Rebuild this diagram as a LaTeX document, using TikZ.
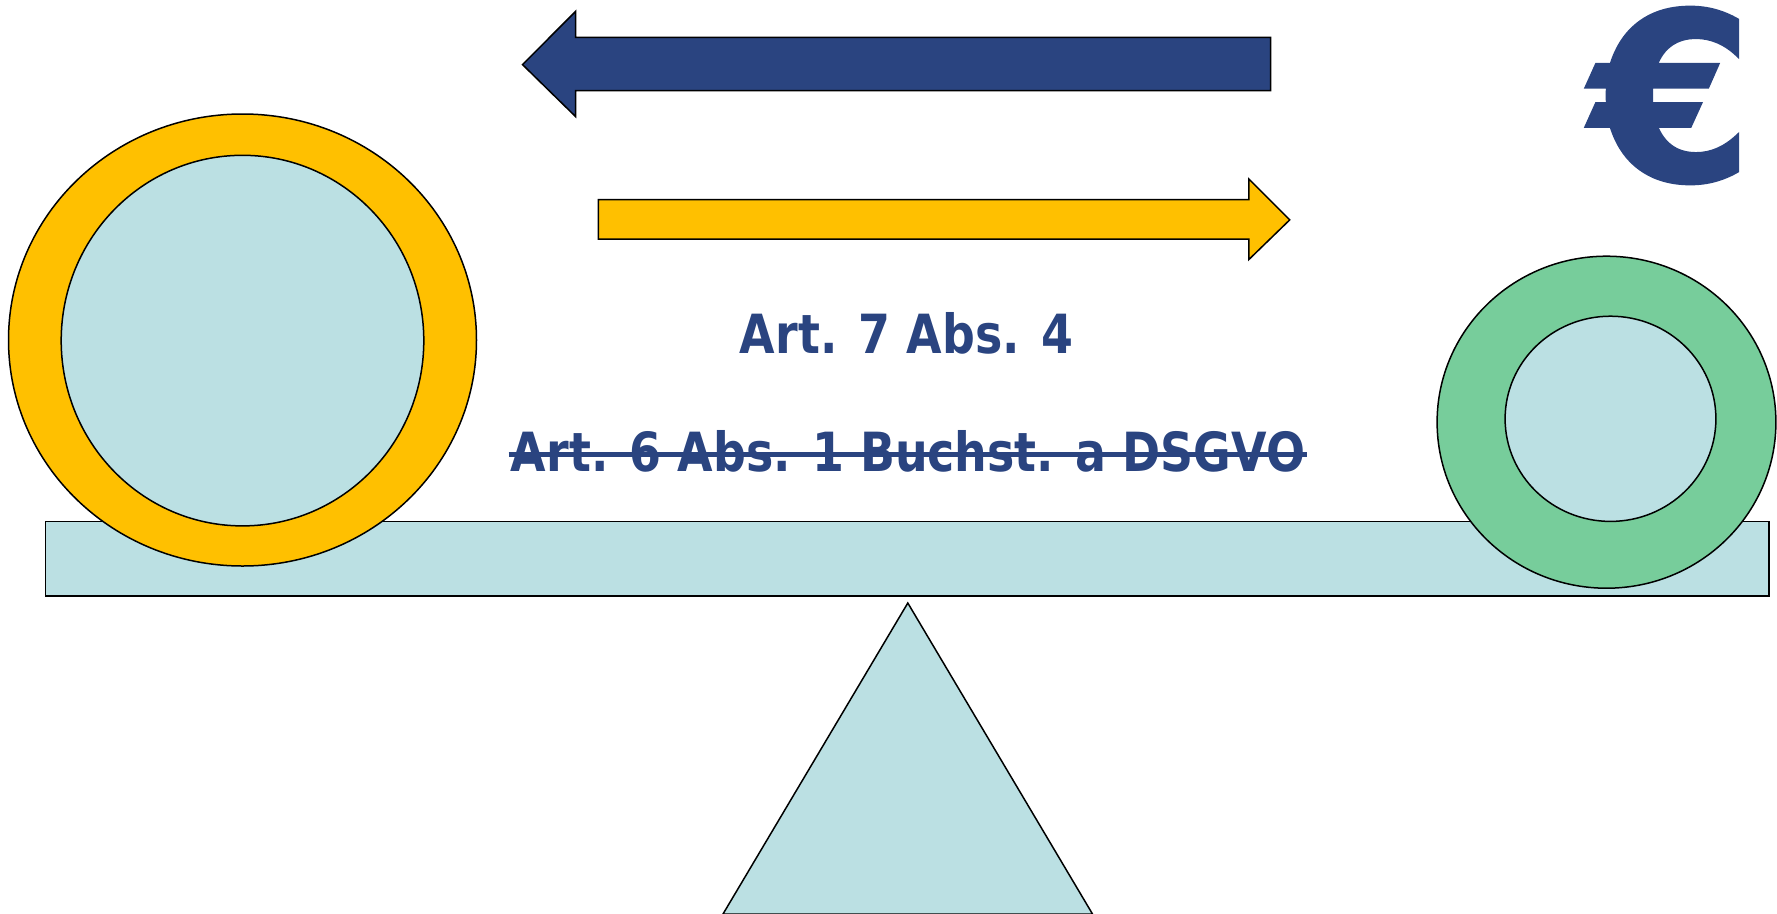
\documentclass[tikz,border=0pt]{standalone}
\usepackage{fontspec}
\usetikzlibrary{shapes.geometric}
\newfontfamily\labfont[FakeStretch=0.85]{DejaVu Sans}
\newfontfamily\eurofont[FakeBold=1.5]{DejaVu Sans}
\definecolor{navy}{RGB}{42,68,128}
\definecolor{gold}{RGB}{255,192,0}
\definecolor{pale}{RGB}{187,224,227}
\definecolor{mint}{RGB}{119,205,155}
\tikzset{
  outl/.style={draw=black,line width=1.5pt},
  lab/.style={font=\labfont\bfseries\fontsize{54}{58}\selectfont,text=navy,inner sep=0pt,anchor=base},
}
\begin{document}
\begin{tikzpicture}[x=1pt,y=-1pt]
\useasboundingbox (0,0) rectangle (1777,913);
% beam
\draw[outl,fill=pale] (45.3,521.3) rectangle (1769,596.1);
% fulcrum
\draw[outl,fill=pale] (907.8,603) -- (1092.5,914) -- (723,914) -- cycle;
% left coin
\node[outl,fill=gold,ellipse,inner sep=0pt,minimum width=468pt,minimum height=452pt] (lc) at (242.5,340) {};
\node[outl,fill=pale,ellipse,inner sep=0pt,minimum width=362.6pt,minimum height=370.6pt] (lci) at (242.5,340.6) {};
% right coin
\node[outl,fill=mint,ellipse,inner sep=0pt,minimum width=338.8pt,minimum height=332pt] (rc) at (1606.5,422.2) {};
\node[outl,fill=pale,ellipse,inner sep=0pt,minimum width=210.8pt,minimum height=205.2pt] (rci) at (1610.5,418.8) {};
% blue arrow (left)
\draw[outl,fill=navy] (522.5,64.6) -- (575.7,11.3) -- (575.7,37.4) -- (1270.5,37.4) -- (1270.5,90.7) -- (575.7,90.7) -- (575.7,116.7) -- cycle;
% yellow arrow (right)
\draw[outl,fill=gold] (598.4,199.5) -- (1248.9,199.5) -- (1248.9,179.1) -- (1289.7,219.9) -- (1248.9,259.5) -- (1248.9,239.1) -- (598.4,239.1) -- cycle;
% euro
\node[font=\eurofont\bfseries\fontsize{233}{240}\selectfont,text=navy,inner sep=0pt] (euro) at (1672,95.5) {€};
% texts
\node[lab] (a7) at (906.5,353.6) {Art. 7 Abs. 4};
\node[lab] (a6) at (908,471.5) {Art. 6 Abs. 1 Buchst. a DSGVO};
\draw[navy,line width=4.5pt] ([xshift=-2pt,yshift=17pt]a6.base west) -- ([xshift=2pt,yshift=17pt]a6.base east);
\end{tikzpicture}
\end{document}
